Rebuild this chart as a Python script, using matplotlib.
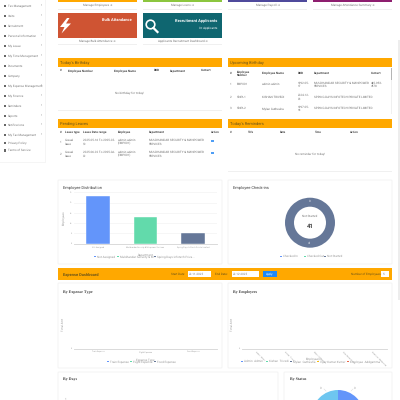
import matplotlib
matplotlib.use("Agg")
import matplotlib.pyplot as plt
from matplotlib.patches import Rectangle, FancyBboxPatch, Polygon

plt.rcParams["font.family"] = ["Roboto", "DejaVu Sans"]
plt.rcParams["text.hinting"] = "no_hinting"
plt.rcParams["text.hinting_factor"] = 1

ORANGE = "#ffa800"
BLUE = "#6395fa"
GREEN = "#62daab"
SLATE = "#657798"
GREY = "#787878"
DARK = "#404040"

SIDEBAR_ITEMS = [
    "Tax Management", "Visits", "Recruitment", "Personal Information", "My Leave",
    "My Time Management", "Documents", "Company", "My Expense Management", "My Finance",
    "Reminders", "Reports", "Notifications", "My Tax Management", "Privacy Policy",
    "Terms of Service",
]
SIDEBAR_Y = [6, 16, 26, 36, 46, 56, 66, 76, 86, 96, 106, 116, 125, 135, 143, 150.5]

TOP_COLORS = ["#ffa800", "#8cc63f", "#4f4a9c", "#8e1f6f"]
TOP_LABELS = ["Manage Employees", "Manage Loans", "Manage Payroll", "Manage Attendance Summary"]

DEPARTMENTS = ["Not Assigned", "Muldhandar Security & Manpower Services", "Spring Days Infotech Private Limited"]
DEPT_LEGEND = ["Not Assigned", "Muldhandar Security & M...", "Spring Days Infotech Priva..."]
EMPLOYEES_PER_DEPT = [23, 13, 5]
DEPT_COLORS = [BLUE, GREEN, SLATE]

CHECKIN_LABELS = ["Checked In", "Checked Out", "Not Started"]
CHECKIN_VALUES = [0, 0, 41]

EXPENSE_TYPES = ["Train Expense", "Flight Expense", "Food Expense"]
EXPENSE_TYPE_VALUES = [0, 0, 0]
EXPENSE_EMPLOYEES = ["Admin  Admin", "Kishan  Trivedi", "Mylan  Gutheuha", "Vijay Kumar Kumar", "Employee  Addgamma"]
EXPENSE_EMPLOYEE_VALUES = [0, 0, 0, 0, 0]
EXPENSE_EMPLOYEE_COLORS = [BLUE, GREEN, SLATE, "#f6bd16", "#e8684a"]
STATUS_VALUES = [1, 1]

PENDING_ROWS = [
    ["1", "Casual\nleave", "2025-05-16 To 2025-05-\n30", "admin admin\n(EMP001)", "MULDHANDAR SECURITY & MANPOWER\nSERVICES"],
    ["2", "Casual\nleave", "2025-06-02 To 2025-06-\n02", "admin admin\n(EMP001)", "MULDHANDAR SECURITY & MANPOWER\nSERVICES"],
]
UPCOMING_ROWS = [
    ["1", "EMP001", "admin admin", "1992-05-\n17", "MULDHANDAR SECURITY & MANPOWER\nSERVICES", "445-953-\n4578"],
    ["2", "SDIPL1", "KISHAN TRIVEDI", "2024-12-\n03", "SPRING DAYS INFOTECH PRIVATE LIMITED", ""],
    ["3", "SDIPL2", "Mylan Gutheuha", "1997-05-\n18", "SPRING DAYS INFOTECH PRIVATE LIMITED", ""],
]

fig = plt.figure(figsize=(4, 4), dpi=100, facecolor="white")
bg = fig.add_axes([0, 0, 1, 1])
bg.set_xlim(0, 400)
bg.set_ylim(400, 0)
bg.axis("off")


def box(x0, y0, x1, y1, color, z=1, **kwargs):
    bg.add_patch(Rectangle((x0, y0), x1 - x0, y1 - y0, facecolor=color, edgecolor="none", zorder=z, **kwargs))


def label(x, y, s, size=2.2, color=GREY, ha="left", weight="normal", **kwargs):
    bg.text(x, y, s, fontsize=size, color=color, ha=ha, va="center", fontweight=weight, zorder=5,
            linespacing=1.25, **kwargs)


def card(x0, y0, x1, y1):
    bg.add_patch(FancyBboxPatch((x0, y0), x1 - x0, y1 - y0, boxstyle="round,pad=0,rounding_size=1",
                                facecolor="white", edgecolor="#f3f3f3", linewidth=0.7, zorder=2))


def header(x0, y0, x1, y1, title):
    box(x0, y0, x1, y1, ORANGE, z=3)
    label(x0 + 2, (y0 + y1) / 2, title, size=2.7, color="#6b5418")


def chart_axes(x0, y0, x1, y1):
    ax = fig.add_axes([x0 / 400, 1 - y1 / 400, (x1 - x0) / 400, (y1 - y0) / 400])
    ax.patch.set_alpha(0)
    for side in ["top", "right", "left"]:
        ax.spines[side].set_visible(False)
    ax.spines["bottom"].set_color("#d4d4d4")
    ax.spines["bottom"].set_linewidth(0.6)
    ax.tick_params(length=0, labelsize=1.7, labelcolor="#999999", pad=1.5)
    return ax


def axis_titles(ax, xname, yname, xlabel_y, x0, y0, y1, ylabel_x=64.5):
    ax.set_xlabel(xname, fontsize=1.8, color="#999999")
    ax.set_ylabel(yname, fontsize=1.8, color="#999999")
    ax.xaxis.set_label_coords(0.5, (y1 - xlabel_y) / (y1 - y0), transform=ax.transAxes)
    ax.yaxis.set_label_coords((ylabel_x - x0) / 143, 0.5, transform=ax.transAxes)


def legend_row(items, colors, y, xs):
    for name, color, x in zip(items, colors, xs):
        box(x - 0.8, y - 0.7, x + 0.6, y + 0.7, color, z=5)
        label(x + 2, y, name, size=1.85, color="#999999")


# sidebar
box(0, 0, 45, 162, "#ffffff", z=2)
box(45, 0, 46.2, 163, "#f5f5f5", z=1)
box(0, 162, 46, 163, "#f5f5f5", z=1)
for i, (item, y) in enumerate(zip(SIDEBAR_ITEMS, SIDEBAR_Y)):
    box(3.5, y - 1.2, 6, y + 1.2, "#666666", z=3)
    label(8, y, item, size=2.3)
    if i < 14:
        label(41, y - 1, "›", size=3.2, color="#777777")

# top row of tiles, cut by the top edge
TILE_X = [(58, 137), (143, 222), (228, 307), (313, 392)]
for (x0, x1), color, name in zip(TILE_X, TOP_COLORS, TOP_LABELS):
    box(x0, 0, x1, 2, color, z=3)
    box(x0, 9, x1, 9.5, "#f0f0f0", z=2)
    label((x0 + x1) / 2, 5, name + " ➔", size=2.0, ha="center")

# second row of tiles
box(58, 13, 137, 38, "#cf5433", z=3)
box(143, 13, 222, 38, "#0f6670", z=3)
for x0, x1, name in [(58, 137, "Manage Bulk Attendance ➔"), (143, 222, "Applicants Recruitment Dashboard ➔")]:
    box(x0, 44, x1, 44.5, "#f0f0f0", z=2)
    label((x0 + x1) / 2, 41, name, size=2.0, ha="center")
label(132, 20, "Bulk Attendance", size=3.1, color="white", ha="right", weight="bold")
label(217, 20, "Recruitment Applicants", size=3.1, color="white", ha="right", weight="bold")
label(217, 27.5, "0+ Applicants", size=2.2, color="white", ha="right")
bg.add_patch(Polygon([(67, 18), (60, 27), (64.5, 27), (61.5, 33.5), (71, 23.5), (66, 23.5), (69.5, 18)],
                     facecolor="white", edgecolor="none", zorder=5))
bg.add_patch(plt.Circle((150.5, 24.5), 4.3, fill=False, edgecolor="white", linewidth=1.2, zorder=5))
bg.plot([153.5, 157.5], [28, 32], color="white", linewidth=1.6, zorder=5)

# birthday and reminder tables
box(46, 53, 400, 53.4, "#f6f6f6", z=1)
header(58, 58, 222, 66.5, "Today's Birthday")
for x, name in zip([60, 68, 114, 154, 170, 201],
                   ["#", "Employee Number", "Employee Name", "DOB", "Department", "Contact"]):
    label(x, 70.5, name, size=2.2, color=DARK, weight="bold")
box(58, 74.5, 222, 74.9, "#f0f0f0", z=2)
label(129, 92.5, "No birthday for today!", size=1.95, ha="center")
box(58, 110, 222, 110.5, "#f0f0f0", z=2)

header(228, 58, 392, 66.5, "Upcoming Birthday")
for x, name in zip([230, 236.5, 262, 298, 314, 371],
                   ["#", "Employee\nNumber", "Employee Name", "DOB", "Department", "Contact"]):
    label(x, 73, name, size=2.2, color=DARK, weight="bold")
box(228, 79, 390, 79.4, "#f0f0f0", z=2)
for row, y in zip(UPCOMING_ROWS, [84.5, 97, 108.5]):
    for x, val in zip([230, 236.5, 262, 298, 314, 371], row):
        label(x, y, val, size=1.9, color="#707070")
    box(228, y + 6, 390, y + 6.3, "#f0f0f0", z=2)
box(390.5, 68, 392, 114, "#f0f0f0", z=3)
box(390.5, 68, 392, 80, "#b5b5b5", z=4)

header(58, 119, 222, 128, "Pending Leaves")
for x, name in zip([60, 65, 83, 118, 149, 211],
                   ["#", "Leave type", "Leave Date range", "Employee", "Department", "Action"]):
    label(x, 132, name, size=2.2, color=DARK, weight="bold")
box(58, 136, 222, 136.4, "#f0f0f0", z=2)
for row, y in zip(PENDING_ROWS, [142, 154]):
    for x, val in zip([60, 65, 83, 118, 149], row):
        label(x, y, val, size=1.9, color="#707070")
    box(210.5, y - 2, 213.5, y, "#4f9ef5", z=4)
    box(58, y + 6, 222, y + 6.3, "#f0f0f0", z=2)

header(228, 119, 392, 128, "Today's Reminders")
for x, name in zip([230, 247.5, 280, 315, 350], ["#", "Title", "Date", "Time", "Action"]):
    label(x, 132, name, size=2.2, color=DARK, weight="bold")
box(228, 136, 392, 136.4, "#f0f0f0", z=2)
label(310, 154, "No reminder for today!", size=1.95, ha="center")
box(228, 171, 392, 171.5, "#f0f0f0", z=2)

# employee distribution
card(58, 180, 222, 264)
label(63, 187, "Employee Distribution", size=2.6, color=DARK)
ax = chart_axes(74, 192.3, 217, 243.5)
ax.bar(DEPARTMENTS, EMPLOYEES_PER_DEPT, color=DEPT_COLORS, width=0.5, edgecolor="white", linewidth=0.3)
ax.set_xlim(-0.5, 2.5)
ax.set_ylim(0, 25)
ax.set_yticks([0, 5, 10, 15, 20, 25])
ax.grid(axis="y", color="#f3f3f3", linewidth=0.5)
ax.set_axisbelow(True)
axis_titles(ax, "Department", "Employees", 253, 74, 192.3, 243.5)
legend_row(DEPT_LEGEND, DEPT_COLORS, 256.5, [95, 118, 155])

# employee check-in
card(228, 180, 392, 264)
label(233, 187, "Employee Check-ins", size=2.6, color=DARK)
r = 25
ax = fig.add_axes([(310 - r) / 400, 1 - (222.7 + r) / 400, 2 * r / 400, 2 * r / 400])
ax.pie(CHECKIN_VALUES, colors=DEPT_COLORS, radius=1, startangle=90, counterclock=False,
       wedgeprops={"width": 0.36, "edgecolor": "none"})
ax.set_xlim(-1, 1)
ax.set_ylim(-1, 1)
ax.text(0, 0.26, CHECKIN_LABELS[2], fontsize=2.1, color=GREY, ha="center", va="center")
ax.text(0, -0.13, str(sum(CHECKIN_VALUES)), fontsize=4.6, color=DARK, ha="center", va="center", fontweight="bold")
ax.text(0, -0.82, str(CHECKIN_VALUES[2]), fontsize=1.8, color="white", ha="center", va="center")
ax.text(0, 0.86, "0", fontsize=1.8, color="white", ha="center", va="center")
legend_row(CHECKIN_LABELS, DEPT_COLORS, 256.5, [281, 305, 325])

# expense toolbar
box(58, 268, 392, 279.5, ORANGE, z=3)
label(63, 273.7, "Expense Dashboard", size=2.6, color="#6b5418", weight="bold")
label(171, 273.7, "Start Date:", size=2.0, color="#6b5418")
box(188, 271, 211, 276.5, "#ffffff", z=4)
label(189, 273.7, "22-11-2025", size=1.9)
label(215, 273.7, "End Date:", size=2.0, color="#6b5418")
box(232, 271, 259, 276.5, "#ffffff", z=4)
label(233, 273.7, "22-12-2025", size=1.9)
box(263, 271, 277, 276.5, "#1e88f5", z=4)
label(270, 273.7, "Apply", size=1.9, color="white", ha="center")
label(351, 273.7, "Number of Employees:", size=2.0, color="#6b5418")
box(381, 271, 389, 276.5, "#ffffff", z=4)
label(382.5, 273.7, "5", size=1.9)

# by expense type
card(58, 283, 222, 368)
label(63, 292, "By Expense Type", size=2.7, color=DARK, family=["Liberation Serif"], weight="bold")
ax = chart_axes(74, 300, 217, 348.5)
ax.bar(EXPENSE_TYPES, EXPENSE_TYPE_VALUES, color=DEPT_COLORS)
ax.set_xlim(-0.5, 2.5)
ax.set_ylim(0, 1)
ax.set_yticks([0])
axis_titles(ax, "Expense Type", "Total Amt", 358, 74, 300, 348.5)
legend_row(EXPENSE_TYPES, DEPT_COLORS, 361.5, [108, 131, 155])

# by employees
card(228, 283, 392, 368)
label(233, 292, "By Employees", size=2.7, color=DARK, family=["Liberation Serif"], weight="bold")
ax = chart_axes(242, 300, 387, 348.5)
ax.bar(EXPENSE_EMPLOYEES, EXPENSE_EMPLOYEE_VALUES, color=EXPENSE_EMPLOYEE_COLORS)
ax.set_xlim(-0.5, 4.5)
ax.set_ylim(0, 1)
ax.set_yticks([0])
ax.tick_params(axis="x", labelrotation=-45)
for t in ax.get_xticklabels():
    t.set_ha("left")
    t.set_rotation_mode("anchor")
axis_titles(ax, "Employee(s)", "Total Amt", 358, 242, 300, 348.5, ylabel_x=234)
legend_row(EXPENSE_EMPLOYEES, EXPENSE_EMPLOYEE_COLORS, 361.5, [242, 267, 291, 318, 348])

# by days and by status, cut by the bottom edge
card(58, 372, 278, 420)
label(63, 379.5, "By Days", size=2.7, color=DARK, family=["Liberation Serif"], weight="bold")
label(66, 399, "1", size=1.8, color="#999999", ha="right")
card(284, 372, 392, 420)
label(290, 379.5, "By Status", size=2.7, color=DARK, family=["Liberation Serif"], weight="bold")
r = 26
ax = fig.add_axes([(338 - r) / 400, 1 - (416 + r) / 400, 2 * r / 400, 2 * r / 400])
ax.pie(STATUS_VALUES, colors=[BLUE, "#6ec6f0"], radius=1, startangle=90, counterclock=False)
ax.set_xlim(-1, 1)
ax.set_ylim(-1, 1)
bg.plot([324, 326], [389, 391], color="#dddddd", linewidth=0.4, zorder=5)
bg.plot([353, 351], [389, 391], color="#dddddd", linewidth=0.4, zorder=5)
label(321, 388, "0", size=1.8, color="#999999", ha="center")
label(355, 388, "0", size=1.8, color="#999999", ha="center")

# page scrollbar
box(397.5, 40, 400, 300, "#ededed", z=1)

fig.savefig("out.png", dpi=100)
